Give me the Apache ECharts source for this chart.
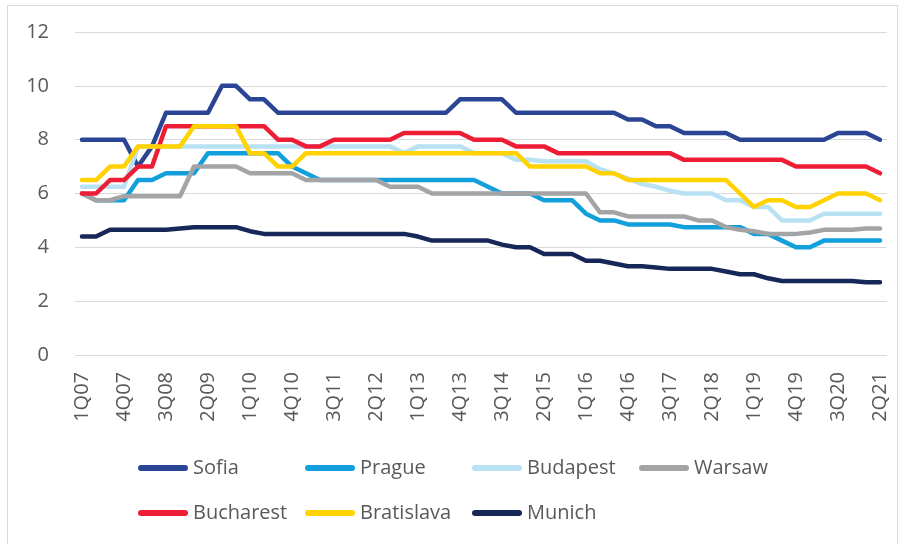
<!DOCTYPE html>
<html>
<head>
<meta charset="utf-8">
<script src="https://cdn.jsdelivr.net/npm/echarts@6/dist/echarts.min.js"></script>
<style>
  html, body { margin: 0; padding: 0; background: #fff; }
  #bar { position: absolute; left: 0; top: 0; width: 901px; height: 544px; }
  #frame { position: absolute; left: 7px; top: 5px; width: 889px; height: 560px; border: 1px solid #d9d9d9; pointer-events: none; }
</style>
</head>
<body>
<div id="bar"></div>
<div id="frame"></div>
<script>
// quarters 1Q07 .. 2Q21
const quarters = [
  '1Q07', '2Q07', '3Q07', '4Q07', '1Q08', '2Q08', '3Q08', '4Q08',
  '1Q09', '2Q09', '3Q09', '4Q09', '1Q10', '2Q10', '3Q10', '4Q10',
  '1Q11', '2Q11', '3Q11', '4Q11', '1Q12', '2Q12', '3Q12', '4Q12',
  '1Q13', '2Q13', '3Q13', '4Q13', '1Q14', '2Q14', '3Q14', '4Q14',
  '1Q15', '2Q15', '3Q15', '4Q15', '1Q16', '2Q16', '3Q16', '4Q16',
  '1Q17', '2Q17', '3Q17', '4Q17', '1Q18', '2Q18', '3Q18', '4Q18',
  '1Q19', '2Q19', '3Q19', '4Q19', '1Q20', '2Q20', '3Q20', '4Q20',
  '1Q21', '2Q21'
]

const sofia = [
  8, 8, 8, 8, 7, 7.75, 9, 9, 9, 9, 10, 10, 9.5, 9.5,
  9, 9, 9, 9, 9, 9, 9, 9, 9, 9, 9, 9, 9,
  9.5, 9.5, 9.5, 9.5, 9, 9, 9, 9, 9, 9, 9, 9,
  8.75, 8.75, 8.5, 8.5, 8.25, 8.25, 8.25, 8.25,
  8, 8, 8, 8, 8, 8, 8, 8.25, 8.25, 8.25, 8
]
const prague = [
  6, 5.75, 5.75, 5.75, 6.5, 6.5, 6.75, 6.75, 6.75, 7.5, 7.5, 7.5, 7.5, 7.5,
  7.5, 7, 6.75, 6.5, 6.5, 6.5, 6.5, 6.5, 6.5, 6.5, 6.5, 6.5, 6.5, 6.5, 6.5,
  6.25, 6, 6, 6, 5.75, 5.75, 5.75, 5.25, 5, 5, 4.85, 4.85, 4.85, 4.85,
  4.75, 4.75, 4.75, 4.75, 4.75, 4.5, 4.5, 4.25, 4, 4, 4.25, 4.25, 4.25, 4.25, 4.25
]
const budapest = [
  6.25, 6.25, 6.25, 6.25,
  7.75, 7.75, 7.75, 7.75, 7.75, 7.75, 7.75, 7.75, 7.75, 7.75,
  7.75, 7.75, 7.75, 7.75, 7.75, 7.75, 7.75, 7.75, 7.75,
  7.5, 7.75, 7.75, 7.75, 7.75, 7.5, 7.5, 7.5, 7.25, 7.25,
  7.2, 7.2, 7.2, 7.2, 6.9, 6.75, 6.55, 6.35, 6.25, 6.1, 6, 6, 6,
  5.75, 5.75, 5.5, 5.5, 5, 5, 5, 5.25, 5.25, 5.25, 5.25, 5.25
]
const warsaw = [
  6, 5.75, 5.75, 5.9, 5.9, 5.9, 5.9, 5.9, 7, 7, 7, 7,
  6.75, 6.75, 6.75, 6.75, 6.5, 6.5, 6.5, 6.5, 6.5, 6.5, 6.25, 6.25, 6.25,
  6, 6, 6, 6, 6, 6, 6, 6, 6, 6, 6, 6,
  5.3, 5.3, 5.15, 5.15, 5.15, 5.15, 5.15, 5, 5, 4.75, 4.65, 4.6,
  4.5, 4.5, 4.5, 4.55, 4.65, 4.65, 4.65, 4.7, 4.7
]
const bucharest = [
  6, 6, 6.5, 6.5, 7, 7, 8.5, 8.5, 8.5, 8.5, 8.5, 8.5, 8.5, 8.5,
  8, 8, 7.75, 7.75, 8, 8, 8, 8, 8, 8.25, 8.25, 8.25, 8.25, 8.25,
  8, 8, 8, 7.75, 7.75, 7.75, 7.5, 7.5, 7.5, 7.5, 7.5, 7.5, 7.5, 7.5, 7.5,
  7.25, 7.25, 7.25, 7.25, 7.25, 7.25, 7.25, 7.25, 7, 7, 7, 7, 7, 7, 6.75
]
const bratislava = [
  6.5, 6.5, 7, 7, 7.75, 7.75, 7.75, 7.75, 8.5, 8.5, 8.5, 8.5, 7.5, 7.5, 7, 7,
  7.5, 7.5, 7.5, 7.5, 7.5, 7.5, 7.5, 7.5, 7.5, 7.5, 7.5, 7.5, 7.5, 7.5, 7.5, 7.5,
  7, 7, 7, 7, 7, 6.75, 6.75, 6.5, 6.5, 6.5, 6.5, 6.5, 6.5, 6.5, 6.5,
  6, 5.5, 5.75, 5.75, 5.5, 5.5, 5.75, 6, 6, 6, 5.75
]
const munich = [
  4.4, 4.4, 4.65, 4.65, 4.65, 4.65, 4.65, 4.7, 4.75, 4.75, 4.75, 4.75, 4.6,
  4.5, 4.5, 4.5, 4.5, 4.5, 4.5, 4.5, 4.5, 4.5, 4.5, 4.5, 4.4,
  4.25, 4.25, 4.25, 4.25, 4.25, 4.1, 4, 4, 3.75, 3.75, 3.75, 3.5, 3.5, 3.4,
  3.3, 3.3, 3.25, 3.2, 3.2, 3.2, 3.2, 3.1, 3, 3, 2.85,
  2.75, 2.75, 2.75, 2.75, 2.75, 2.75, 2.7, 2.7
]

const yTicks = [0, 2, 4, 6, 8, 10, 12]

// legend rows, four fixed columns like the Excel legend
const legendRows = [
  ['Sofia', 'Prague', 'Budapest', 'Warsaw'],
  ['Bucharest', 'Bratislava', 'Munich']
]

const textColor = '#595959'
const fontFamily = '"Open Sans", "Noto Sans", sans-serif'
const capsule = 'path://M3,0H47A3,3,0,0,1,47,6H3A3,3,0,0,1,3,0Z'

function line(name, data, color) {
  return {
    name: name,
    type: 'line',
    data: data,
    symbol: 'none',
    animation: false,
    lineStyle: { color: color, width: 4.5, cap: 'round', join: 'round' },
    itemStyle: { color: color },
    emphasis: { disabled: true }
  }
}

const legends = []
legendRows.forEach(function (row, r) {
  row.forEach(function (name, c) {
    legends.push({
      data: [name],
      left: 133 + c * 167,
      top: 453 + r * 45,
      icon: capsule,
      itemWidth: 50,
      itemHeight: 6,
      selectedMode: false,
      textStyle: { color: textColor, fontSize: 20, fontFamily: fontFamily }
    })
  })
})

const chart = echarts.init(document.getElementById('bar'), null, { renderer: 'canvas' })

chart.setOption({
  animation: false,
  grid: { left: 75, right: 14, top: 32, bottom: 189 },
  legend: legends,
  xAxis: {
    type: 'category',
    data: quarters,
    boundaryGap: true,
    axisLine: { show: false },
    axisTick: { show: false },
    axisLabel: {
      interval: 2,
      rotate: 90,
      margin: 17,
      color: textColor,
      fontSize: 20,
      fontFamily: fontFamily
    }
  },
  yAxis: {
    type: 'value',
    min: yTicks[0],
    max: yTicks[yTicks.length - 1],
    interval: 2,
    axisLine: { show: false },
    axisTick: { show: false },
    axisLabel: { margin: 26, color: textColor, fontSize: 20, fontFamily: fontFamily },
    splitLine: { lineStyle: { color: '#d9d9d9', width: 1 } }
  },
  series: [
    line('Sofia', sofia, '#2b4595'),
    line('Prague', prague, '#12a0dc'),
    line('Budapest', budapest, '#b8e2f4'),
    line('Warsaw', warsaw, '#a2a4a5'),
    line('Bucharest', bucharest, '#ee1d36'),
    line('Bratislava', bratislava, '#ffd200'),
    line('Munich', munich, '#172758')
  ]
})
</script>
</body>
</html>
